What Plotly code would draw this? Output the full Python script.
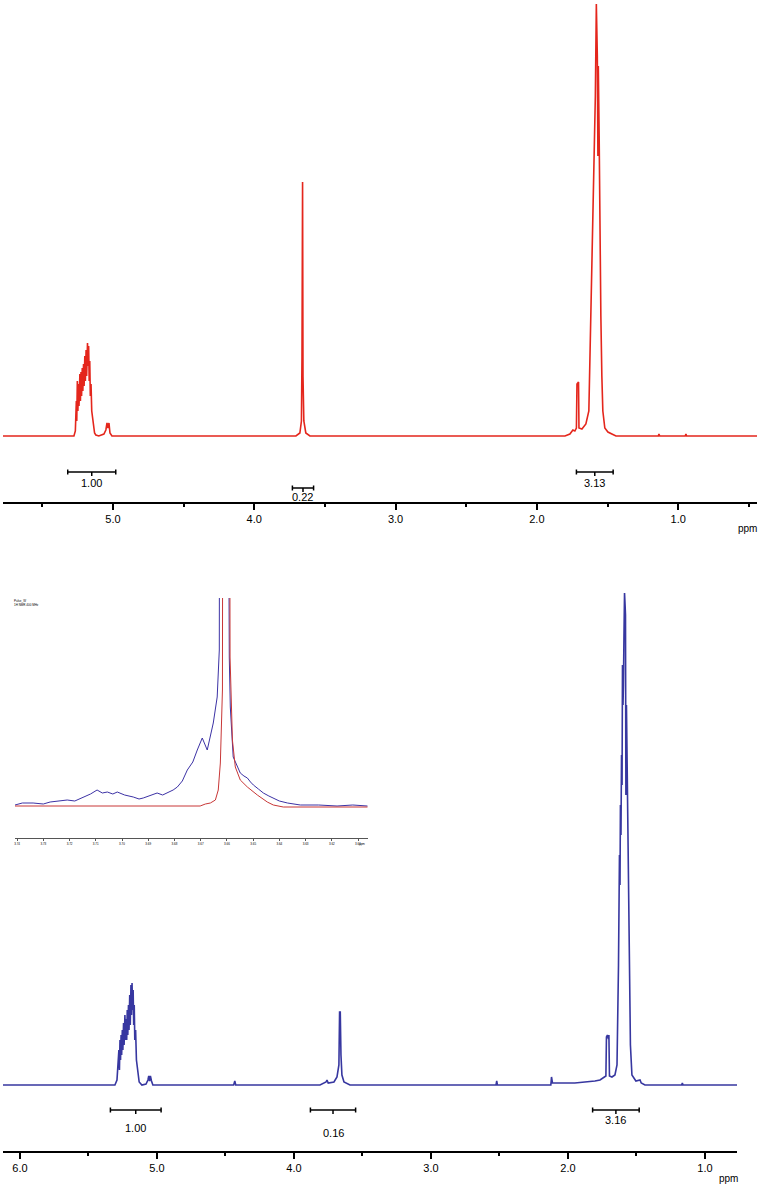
import plotly.graph_objects as go

# ---------------- DATA ----------------
# Top spectrum (red): chemical shift (ppm) and intensity (a.u.)
red_ppm = [5.778, 5.276, 5.266, 5.259, 5.256, 5.252, 5.248, 5.244, 5.240, 5.234, 5.230, 5.226, 5.222,
           5.217, 5.213, 5.208, 5.204, 5.199, 5.195, 5.190, 5.186, 5.180, 5.176, 5.172, 5.168, 5.164,
           5.160, 5.155, 5.150, 5.145, 5.138, 5.130, 5.121, 5.100, 5.064, 5.050, 5.042, 5.035, 5.028,
           5.021, 5.007,
           3.705, 3.677, 3.666, 3.662, 3.658, 3.655, 3.649, 3.635, 3.606,
           1.801, 1.766, 1.745, 1.731, 1.720, 1.716, 1.705, 1.702, 1.681, 1.653, 1.632, 1.617, 1.607,
           1.600, 1.593, 1.586, 1.579, 1.572, 1.568, 1.565, 1.559, 1.554, 1.547, 1.540, 1.533, 1.519,
           1.497, 1.469, 1.440, 1.140, 1.136, 1.130, 0.950, 0.945, 0.940, 0.442]
red_int = [0, 0, 5, 35, 15, 55, 25, 52, 30, 62, 35, 64, 40,
           68, 45, 72, 50, 80, 55, 86, 60, 93, 70, 90, 55, 75,
           40, 52, 25, 20, 8, 3, 1, 0, 2, 6, 13, 8, 13,
           3, 0,
           0, 3, 15, 80, 254, 60, 15, 3, 0,
           0, 2, 6, 5, 8, 52, 54, 8, 7, 12, 25, 120, 200,
           240, 270, 340, 432, 380, 280, 370, 300, 200, 120, 60, 25, 8,
           4, 2, 0, 0, 2, 0, 0, 2, 0, 0]

# Bottom spectrum (blue)
blue_ppm = [6.124, 5.307, 5.292, 5.284, 5.278, 5.274, 5.270, 5.266, 5.262, 5.258, 5.253, 5.249, 5.244,
            5.240, 5.234, 5.230, 5.225, 5.221, 5.217, 5.213, 5.208, 5.204, 5.199, 5.195, 5.190, 5.186,
            5.182, 5.178, 5.174, 5.170, 5.166, 5.162, 5.156, 5.150, 5.145, 5.139, 5.130, 5.110, 5.080,
            5.066, 5.060, 5.054, 5.048, 5.040, 5.030,
            4.440, 4.432, 4.425,
            3.810, 3.766, 3.759, 3.750, 3.708, 3.686, 3.672, 3.667, 3.662, 3.657, 3.650, 3.635, 3.591,
            2.525, 2.520, 2.515, 2.125, 2.120, 2.113, 1.950, 1.850, 1.803, 1.766, 1.745, 1.723, 1.719,
            1.712, 1.704, 1.701, 1.697, 1.679, 1.657, 1.642, 1.631, 1.624, 1.620, 1.617, 1.613, 1.609,
            1.605, 1.602, 1.598, 1.595, 1.591, 1.587, 1.583, 1.580, 1.577, 1.573, 1.569, 1.566, 1.562,
            1.558, 1.551, 1.544, 1.533, 1.504, 1.474, 1.465, 1.438, 1.170, 1.165, 1.160, 0.766]
blue_int = [0, 0, 5, 20, 35, 15, 45, 25, 50, 30, 55, 35, 62,
            40, 70, 45, 66, 45, 75, 50, 80, 55, 90, 60, 100, 70,
            102, 75, 95, 60, 80, 45, 55, 25, 20, 10, 3, 0, 1,
            5, 9, 4, 9, 4, 0,
            0, 4, 0,
            0, 3, 5, 2, 3, 8, 20, 73, 73, 30, 10, 3, 0,
            0, 4, 0, 0, 8, 2, 2, 3, 4, 5, 7, 9, 48,
            50, 46, 50, 9, 8, 10, 20, 120, 230, 200, 280, 250, 330,
            300, 420, 380, 400, 450, 492, 480, 470, 290, 380, 330, 300, 270,
            240, 100, 40, 10, 4, 5, 2, 0, 0, 2, 0, 0]

# Inset: expanded region around 3.66 ppm (blue = bottom sample, red = top sample)
inset_blue_ppm = [3.7408, 3.7380, 3.7339, 3.7300, 3.7274, 3.7240, 3.7209, 3.7180, 3.7148, 3.7120,
                  3.7095, 3.7075, 3.7056, 3.7035, 3.7018, 3.6990, 3.6957, 3.6935, 3.6919, 3.6890,
                  3.6866, 3.6845, 3.6827, 3.6805, 3.6789, 3.6770, 3.6751, 3.6730, 3.6713, 3.6694,
                  3.6675, 3.6652, 3.6637, 3.6629, 3.6627, 3.6597, 3.6591, 3.6587, 3.6576, 3.6560,
                  3.6549, 3.6535, 3.6522, 3.6510, 3.6499, 3.6480, 3.6461, 3.6440, 3.6423, 3.6400,
                  3.6369, 3.6340, 3.6320, 3.6250, 3.6180, 3.6120, 3.6064]
inset_blue = [2, 4, 4, 3, 5, 6, 7, 6, 10, 13,
              17, 14, 15, 13, 15, 12, 10, 8, 9, 12,
              14, 12, 14, 17, 20, 26, 37, 45, 57, 69,
              57, 84, 110, 157, 600, 600, 150, 100, 50, 40,
              34, 31, 29, 25, 22, 18, 14, 11, 9, 6,
              4, 3, 2, 2, 1, 2, 1]
inset_red_ppm = [3.7408, 3.6702, 3.6682, 3.6663, 3.6644, 3.6633, 3.6625, 3.6617, 3.6615, 3.6591,
                 3.6588, 3.6579, 3.6568, 3.6549, 3.6522, 3.6484, 3.6446, 3.6423, 3.6385, 3.6064]
inset_red = [1, 1, 3, 4, 7, 17, 44, 117, 600, 600,
             150, 67, 40, 27, 20, 12, 5, 2, 0, 0]
inset_ticks = [3.74, 3.73, 3.72, 3.71, 3.70, 3.69, 3.68, 3.67, 3.66, 3.65, 3.64, 3.63, 3.62, 3.61]

# Integrals
top_int_from = [5.32, 3.73, 1.72]
top_int_to = [4.98, 3.58, 1.46]
top_int_labels = ["1.00", "0.22", "3.13"]
bot_int_from = [5.34, 3.88, 1.82]
bot_int_to = [4.97, 3.55, 1.48]
bot_int_labels = ["1.00", "0.16", "3.16"]

# ---------------- STYLE / LAYOUT ----------------
W, H = 761, 1186
RED = "rgb(228,38,28)"
BLUE = "rgb(55,55,160)"
INSET_RED = "rgb(200,55,55)"
INSET_BLUE = "rgb(60,50,165)"
FONT = "Liberation Sans, Arial, sans-serif"

TOP_BRACKET_Y = [-36, -52, -36]
TOP_LABEL_Y = [-47, -61, -47]
BOT_BRACKET_Y = [-25, -25, -25]
BOT_LABEL_Y = [-43, -48, -35]


def py(px):
    return 1 - px / H


fig = go.Figure()

fig.add_trace(go.Scatter(x=red_ppm, y=red_int, mode="lines", xaxis="x", yaxis="y",
                         line=dict(color=RED, width=1.6), hoverinfo="skip"))
fig.add_trace(go.Scatter(x=blue_ppm, y=blue_int, mode="lines", xaxis="x2", yaxis="y2",
                         line=dict(color=BLUE, width=1.6), hoverinfo="skip"))
fig.add_trace(go.Scatter(x=inset_blue_ppm, y=inset_blue, mode="lines", xaxis="x3", yaxis="y3",
                         line=dict(color=INSET_BLUE, width=1), hoverinfo="skip"))
fig.add_trace(go.Scatter(x=inset_red_ppm, y=inset_red, mode="lines", xaxis="x3", yaxis="y3",
                         line=dict(color=INSET_RED, width=1), hoverinfo="skip"))


def brackets(froms, tos, ys, xa, ya):
    xs, yy = [], []
    for a, b, y in zip(froms, tos, ys):
        m = (a + b) / 2
        xs += [a, a, None, a, b, None, b, b, None, m, m, None]
        yy += [y + 2.5, y - 2.5, None, y, y, None, y + 2.5, y - 2.5, None, y, y - 4, None]
    fig.add_trace(go.Scatter(x=xs, y=yy, mode="lines", xaxis=xa, yaxis=ya,
                             line=dict(color="black", width=1.5), hoverinfo="skip"))


brackets(top_int_from, top_int_to, TOP_BRACKET_Y, "x", "y")
brackets(bot_int_from, bot_int_to, BOT_BRACKET_Y, "x2", "y2")

annotations = []
for a, b, lab, y in zip(top_int_from, top_int_to, top_int_labels, TOP_LABEL_Y):
    annotations.append(dict(x=(a + b) / 2, y=y, xref="x", yref="y", text=lab, showarrow=False,
                            xanchor="center", font=dict(family=FONT, size=11, color="black")))
for a, b, lab, y in zip(bot_int_from, bot_int_to, bot_int_labels, BOT_LABEL_Y):
    annotations.append(dict(x=(a + b) / 2, y=y, xref="x2", yref="y2", text=lab, showarrow=False,
                            xanchor="center", font=dict(family=FONT, size=11, color="black")))

annotations += [
    dict(x=747 / W, y=py(528), xref="paper", yref="paper", text="ppm", showarrow=False,
         xanchor="center", yanchor="middle", font=dict(family=FONT, size=10, color="black")),
    dict(x=728 / W, y=py(1178), xref="paper", yref="paper", text="ppm", showarrow=False,
         xanchor="center", yanchor="middle", font=dict(family=FONT, size=10, color="black")),
    dict(x=12 / W, y=py(603), xref="paper", yref="paper", text="Pulse_W<br>1H NMR 400 MHz",
         showarrow=False, xanchor="left", align="left",
         font=dict(family=FONT, size=3, color="black")),
    dict(x=362 / W, y=py(848), xref="paper", yref="paper", text="ppm", showarrow=False,
         xanchor="center", font=dict(family=FONT, size=3, color="black")),
]

main_axis = dict(showline=True, linewidth=2, linecolor="black", ticks="outside", ticklen=6,
                 tickwidth=2, tickcolor="black", dtick=1, tick0=0, tickformat=".1f",
                 showgrid=False, zeroline=False,
                 tickfont=dict(family=FONT, size=11, color="black"),
                 minor=dict(dtick=0.5, tick0=0, ticks="outside", ticklen=3, tickwidth=2,
                            tickcolor="black", showgrid=False))

fig.update_layout(
    width=W, height=H, margin=dict(l=0, r=0, t=0, b=0),
    paper_bgcolor="white", plot_bgcolor="white", showlegend=False,
    xaxis=dict(domain=[3 / W, 757 / W], range=[5.778, 0.442], anchor="y", **main_axis),
    yaxis=dict(domain=[py(502), 1.0], range=[-66, 436], visible=False),
    xaxis2=dict(domain=[3 / W, 737 / W], range=[6.124, 0.766], anchor="y2", **main_axis),
    yaxis2=dict(domain=[py(1151), py(583)], range=[-66, 502], visible=False),
    xaxis3=dict(domain=[15 / W, 368 / W], range=[3.7408, 3.6062], anchor="y3",
                showline=True, linewidth=1, linecolor="#555", ticks="outside", ticklen=2,
                tickwidth=1, tickcolor="#555", tickvals=inset_ticks, tickformat=".2f",
                showgrid=False, zeroline=False,
                tickfont=dict(family=FONT, size=3, color="black")),
    yaxis3=dict(domain=[py(838), py(598)], range=[-31, 209], visible=False),
    annotations=annotations,
)

fig.write_html("out.html", config={"displayModeBar": False},
               post_script="document.body.style.margin='0px';")
